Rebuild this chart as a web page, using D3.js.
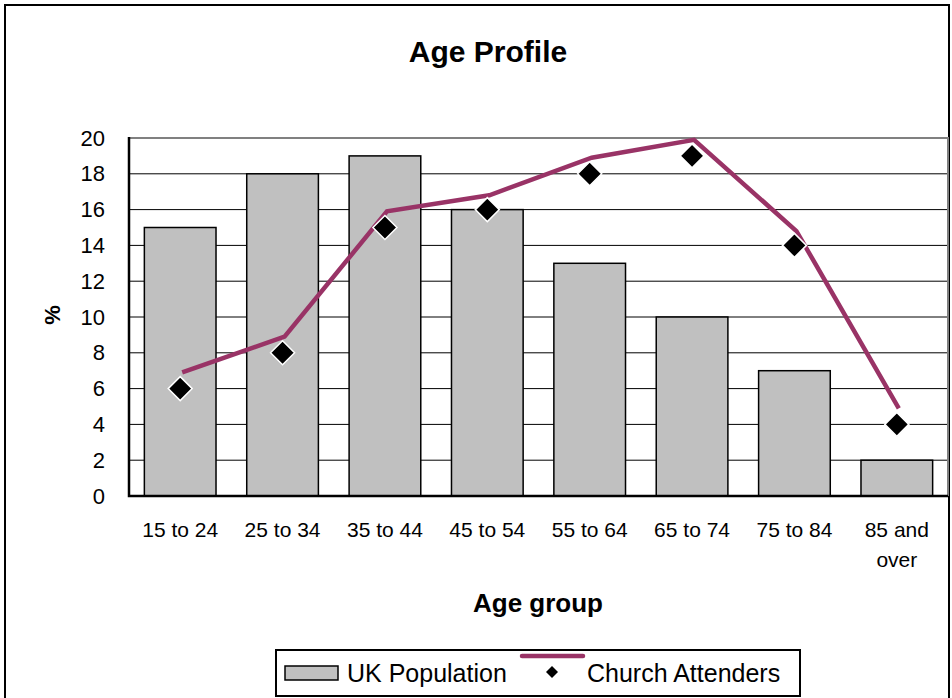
<!DOCTYPE html>
<html>
<head>
<meta charset="utf-8">
<script src="https://cdn.jsdelivr.net/npm/d3@7"></script>
<style>
  html, body { margin: 0; padding: 0; background: #fff; }
  svg { display: block; font-family: "Liberation Sans", Arial, sans-serif; }
</style>
</head>
<body>
<svg id="chart" width="952" height="698"></svg>
<script>
/* Age Profile — UK population bars vs church attenders line */
var categories = ['15 to 24', '25 to 34', '35 to 44', '45 to 54', '55 to 64', '65 to 74', '75 to 84', '85 and over'];
var ukPopulation = [15, 18, 19, 16, 13, 10, 7, 2];
var attenders = [6, 8, 15, 16, 18, 19, 14, 4];
// the drawn line sits a little above the markers in the original
var attendersLine = [6.9, 8.9, 15.9, 16.8, 18.9, 19.9, 14.8, 4.9];
var yTicks = [0, 2, 4, 6, 8, 10, 12, 14, 16, 18, 20];

(function () {
  'use strict';
  var svg = d3.select('#chart');
  var plum = '#993366';
  var m = { left: 129, right: 948, top: 138, bottom: 496 };

  /* outer chart border */
  svg.append('rect')
    .attr('x', 5).attr('y', 5).attr('width', 944).attr('height', 720)
    .attr('fill', 'none').attr('stroke', '#000').attr('stroke-width', 2);

  var x = d3.scaleBand().domain(categories)
    .range([m.left, m.right]).paddingInner(0.3).paddingOuter(0.15);
  var y = d3.scaleLinear().domain([0, 20]).range([m.bottom, m.top]);

  /* gridlines */
  svg.append('g').selectAll('line')
    .data(yTicks.filter(function (v) { return v > 0 && v < 20; }))
    .enter().append('line')
    .attr('x1', m.left).attr('x2', m.right)
    .attr('y1', function (d) { return y(d); }).attr('y2', function (d) { return y(d); })
    .attr('stroke', '#000').attr('stroke-width', 1);

  /* plot frame: gray top & right */
  svg.append('path')
    .attr('d', 'M' + m.left + ',' + y(20) + 'H' + m.right + 'V' + m.bottom)
    .attr('fill', 'none').attr('stroke', '#808080').attr('stroke-width', 2);

  /* bars */
  svg.append('g').selectAll('rect')
    .data(ukPopulation).enter().append('rect')
    .attr('x', function (d, i) { return x(categories[i]); })
    .attr('y', function (d) { return y(d); })
    .attr('width', x.bandwidth())
    .attr('height', function (d) { return y(0) - y(d); })
    .attr('fill', '#c0c0c0').attr('stroke', '#000').attr('stroke-width', 1.5);

  /* axes */
  svg.append('path')
    .attr('d', 'M' + m.left + ',' + (y(20) - 1) + 'V' + m.bottom + 'H' + m.right)
    .attr('fill', 'none').attr('stroke', '#000').attr('stroke-width', 2.5);

  var yAxis = d3.axisLeft(y).tickValues(yTicks).tickSize(0).tickPadding(24);
  var gy = svg.append('g').attr('transform', 'translate(' + m.left + ',0)').call(yAxis);
  gy.select('.domain').remove();
  gy.selectAll('text').style('font-size', '22px').style('fill', '#000')
    .attr('font-family', '"Liberation Sans", Arial, sans-serif');

  /* x labels (wrap "85 and over") */
  var gx = svg.append('g');
  categories.forEach(function (c) {
    var cx = x(c) + x.bandwidth() / 2;
    var t = gx.append('text').attr('x', cx).attr('y', 537)
      .attr('text-anchor', 'middle').style('font-size', '21px').style('fill', '#000');
    var parts = c === '85 and over' ? ['85 and', 'over'] : [c];
    parts.forEach(function (p, k) {
      t.append('tspan').attr('x', cx).attr('dy', k === 0 ? 0 : 30).text(p);
    });
  });

  /* church attenders line */
  var dx = 2;
  var line = d3.line()
    .x(function (d, i) { return x(categories[i]) + x.bandwidth() / 2 + dx; })
    .y(function (d) { return y(d); });
  svg.append('path').datum(attendersLine)
    .attr('d', line)
    .attr('fill', 'none').attr('stroke', plum).attr('stroke-width', 4.5)
    .attr('stroke-linejoin', 'miter');

  /* diamond markers */
  function diamond(r) { return 'M0,' + (-r) + 'L' + r + ',0L0,' + r + 'L' + (-r) + ',0Z'; }
  svg.append('g').selectAll('path')
    .data(attenders).enter().append('path')
    .attr('transform', function (d, i) {
      return 'translate(' + (x(categories[i]) + x.bandwidth() / 2) + ',' + y(d) + ')';
    })
    .attr('d', diamond(12))
    .attr('fill', '#000').attr('stroke', '#fff').attr('stroke-width', 1.5);

  /* titles */
  svg.append('text').attr('x', 488).attr('y', 62).attr('text-anchor', 'middle')
    .style('font-size', '30px').style('font-weight', 'bold').text('Age Profile');
  svg.append('text').attr('x', 538).attr('y', 612).attr('text-anchor', 'middle')
    .style('font-size', '26px').style('font-weight', 'bold').text('Age group');
  svg.append('text').attr('transform', 'translate(60,315) rotate(-90)')
    .attr('text-anchor', 'middle').style('font-size', '22px').style('font-weight', 'bold').text('%');

  /* legend */
  var lg = svg.append('g');
  lg.append('rect').attr('x', 276).attr('y', 650).attr('width', 524).attr('height', 46)
    .attr('fill', '#fff').attr('stroke', '#000').attr('stroke-width', 2);
  lg.append('rect').attr('x', 285).attr('y', 666).attr('width', 53).attr('height', 14)
    .attr('fill', '#c0c0c0').attr('stroke', '#000').attr('stroke-width', 1.5);
  lg.append('text').attr('x', 347).attr('y', 682).style('font-size', '25px').text('UK Population');
  lg.append('line').attr('x1', 522).attr('x2', 583).attr('y1', 656).attr('y2', 656)
    .attr('stroke', plum).attr('stroke-width', 4.5).attr('stroke-linecap', 'round');
  lg.append('path').attr('transform', 'translate(552,672)').attr('d', diamond(6)).attr('fill', '#000');
  lg.append('text').attr('x', 587).attr('y', 682).style('font-size', '25px').text('Church Attenders');
})();
</script>
</body>
</html>
